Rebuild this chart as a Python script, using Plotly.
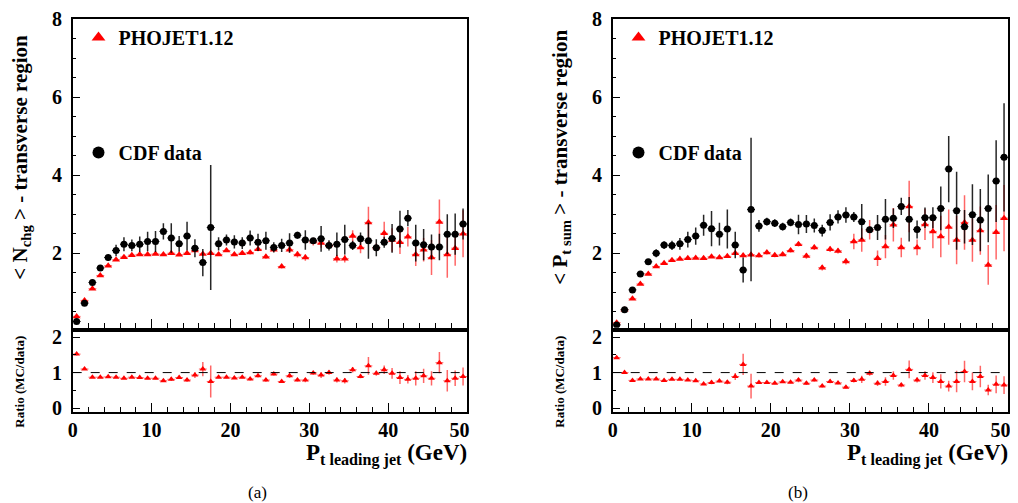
import plotly.graph_objects as go

# ---------------- data ----------------
pt_bins = [0.5, 1.5, 2.5, 3.5, 4.5, 5.5, 6.5, 7.5, 8.5, 9.5,
           10.5, 11.5, 12.5, 13.5, 14.5, 15.5, 16.5, 17.5, 18.5, 19.5,
           20.5, 21.5, 22.5, 23.5, 24.5, 25.5, 26.5, 27.5, 28.5, 29.5,
           30.5, 31.5, 32.5, 33.5, 34.5, 35.5, 36.5, 37.5, 38.5, 39.5,
           40.5, 41.5, 42.5, 43.5, 44.5, 45.5, 46.5, 47.5, 48.5, 49.5]

# (a) <Nchg> transverse region
nchg_cdf = [0.25, 0.72, 1.25, 1.62, 1.89, 2.07, 2.23, 2.20, 2.23, 2.30,
            2.30, 2.56, 2.39, 2.24, 2.44, 2.13, 1.76, 2.66, 2.24, 2.34,
            2.29, 2.26, 2.39, 2.28, 2.32, 2.15, 2.20, 2.26, 2.46, 2.34,
            2.32, 2.37, 2.20, 2.23, 2.35, 2.20, 2.37, 2.32, 2.14, 2.28,
            2.38, 2.62, 2.90, 2.26, 2.22, 2.16, 2.16, 2.49, 2.49, 2.75]
nchg_cdf_err = [0.03, 0.04, 0.05, 0.06, 0.08, 0.15, 0.18, 0.15, 0.20, 0.25,
                0.27, 0.21, 0.38, 0.20, 0.37, 0.23, 0.35, 1.60, 0.17, 0.14,
                0.17, 0.15, 0.19, 0.22, 0.23, 0.13, 0.17, 0.25, 0.09, 0.25,
                0.06, 0.33, 0.13, 0.30, 0.38, 0.12, 0.16, 0.46, 0.22, 0.14,
                0.37, 0.47, 0.21, 0.47, 0.40, 0.32, 0.34, 0.51, 0.53, 0.40]
nchg_mc = [0.38, 0.79, 1.09, 1.43, 1.68, 1.83, 1.90, 1.95, 1.97, 1.97,
           1.98, 1.97, 2.00, 1.96, 2.00, 2.07, 1.98, 2.00, 1.97, 2.07,
           1.97, 2.00, 2.02, 2.10, 1.91, 2.09, 1.66, 2.09, 1.97, 1.89,
           2.30, 2.26, 2.21, 1.86, 1.86, 2.44, 2.15, 2.79, 2.15, 2.51,
           2.34, 2.28, 2.42, 1.97, 2.09, 1.89, 2.80, 1.97, 2.13, 2.50]
nchg_mc_err = [0.02, 0.02, 0.02, 0.02, 0.02, 0.02, 0.02, 0.02, 0.02, 0.02,
               0.02, 0.02, 0.03, 0.03, 0.03, 0.04, 0.04, 0.04, 0.04, 0.04,
               0.04, 0.04, 0.05, 0.05, 0.05, 0.05, 0.05, 0.07, 0.08, 0.08,
               0.10, 0.12, 0.10, 0.10, 0.10, 0.15, 0.15, 0.40, 0.10, 0.30,
               0.30, 0.30, 0.25, 0.30, 0.30, 0.45, 0.58, 0.60, 0.45, 0.60]
nchg_ratio = [1.52, 1.10, 0.87, 0.87, 0.88, 0.87, 0.84, 0.87, 0.86, 0.84,
              0.84, 0.77, 0.81, 0.86, 0.79, 0.93, 1.10, 0.75, 0.87, 0.87,
              0.85, 0.87, 0.82, 0.91, 0.79, 0.96, 0.75, 0.91, 0.79, 0.79,
              0.99, 0.93, 1.00, 0.79, 0.77, 1.08, 0.89, 1.19, 0.98, 1.08,
              0.98, 0.86, 0.81, 0.84, 0.91, 0.84, 1.28, 0.77, 0.84, 0.89]
nchg_ratio_err = [0.04, 0.03, 0.02, 0.02, 0.02, 0.02, 0.02, 0.02, 0.02, 0.03,
                  0.03, 0.03, 0.05, 0.03, 0.05, 0.08, 0.20, 0.45, 0.03, 0.03,
                  0.03, 0.03, 0.04, 0.05, 0.05, 0.04, 0.04, 0.06, 0.04, 0.06,
                  0.05, 0.08, 0.06, 0.07, 0.08, 0.08, 0.05, 0.25, 0.07, 0.12,
                  0.15, 0.18, 0.12, 0.20, 0.20, 0.20, 0.30, 0.30, 0.22, 0.25]

# (b) <Pt sum> transverse region
ptsum_cdf = [0.16, 0.55, 1.06, 1.47, 1.78, 2.00, 2.21, 2.20, 2.24, 2.35,
             2.44, 2.72, 2.63, 2.49, 2.62, 2.21, 1.57, 3.12, 2.70, 2.81,
             2.77, 2.68, 2.79, 2.74, 2.75, 2.71, 2.58, 2.79, 2.93, 2.98,
             2.93, 2.81, 2.60, 2.66, 2.87, 2.90, 3.20, 2.87, 2.61, 2.91,
             2.91, 3.15, 4.16, 3.09, 2.68, 2.99, 2.85, 3.15, 3.85, 4.46]
ptsum_cdf_err = [0.03, 0.04, 0.05, 0.06, 0.07, 0.10, 0.10, 0.12, 0.15, 0.20,
                 0.22, 0.27, 0.45, 0.29, 0.50, 0.34, 0.32, 1.84, 0.15, 0.10,
                 0.10, 0.10, 0.10, 0.25, 0.23, 0.18, 0.15, 0.21, 0.17, 0.20,
                 0.13, 0.45, 0.08, 0.32, 0.52, 0.25, 0.22, 0.57, 0.23, 0.26,
                 0.27, 0.56, 0.85, 1.00, 0.43, 0.78, 0.80, 0.87, 1.05, 1.39]
ptsum_mc = [0.22, 0.55, 0.83, 1.21, 1.47, 1.66, 1.74, 1.82, 1.85, 1.87,
            1.88, 1.87, 1.91, 1.89, 1.92, 2.00, 1.94, 1.96, 1.94, 2.02,
            1.95, 1.97, 2.07, 2.23, 1.93, 2.15, 1.63, 2.10, 2.06, 1.79,
            2.30, 2.34, 2.60, 1.87, 2.17, 2.73, 2.15, 3.20, 2.15, 2.74,
            2.56, 2.43, 2.67, 2.34, 2.79, 2.34, 2.58, 1.70, 2.54, 2.90]
ptsum_mc_err = [0.02, 0.02, 0.02, 0.02, 0.02, 0.02, 0.02, 0.02, 0.02, 0.02,
                0.02, 0.02, 0.03, 0.03, 0.03, 0.04, 0.05, 0.05, 0.05, 0.05,
                0.05, 0.05, 0.05, 0.06, 0.07, 0.07, 0.07, 0.07, 0.07, 0.08,
                0.20, 0.30, 0.25, 0.20, 0.30, 0.43, 0.25, 0.66, 0.20, 0.40,
                0.43, 0.53, 0.45, 0.62, 0.70, 0.56, 0.62, 0.51, 0.70, 0.85]
ptsum_ratio = [1.42, 1.00, 0.78, 0.82, 0.82, 0.82, 0.78, 0.81, 0.81, 0.79,
               0.77, 0.68, 0.72, 0.76, 0.73, 0.89, 1.23, 0.62, 0.72, 0.72,
               0.70, 0.74, 0.73, 0.79, 0.70, 0.79, 0.62, 0.75, 0.71, 0.59,
               0.78, 0.81, 0.98, 0.70, 0.75, 0.92, 0.65, 1.09, 0.79, 0.92,
               0.86, 0.75, 0.62, 0.75, 1.03, 0.75, 0.89, 0.51, 0.67, 0.65]
ptsum_ratio_err = [0.04, 0.03, 0.02, 0.02, 0.02, 0.02, 0.02, 0.02, 0.02, 0.03,
                   0.03, 0.03, 0.05, 0.04, 0.06, 0.10, 0.30, 0.35, 0.03, 0.03,
                   0.03, 0.03, 0.03, 0.06, 0.05, 0.04, 0.04, 0.05, 0.04, 0.04,
                   0.06, 0.10, 0.07, 0.08, 0.12, 0.12, 0.06, 0.25, 0.07, 0.12,
                   0.15, 0.20, 0.15, 0.30, 0.30, 0.25, 0.30, 0.15, 0.25, 0.25]

x_tickvals = [0, 10, 20, 30, 40, 50]
x_ticktext = ["0", "10", "20", "30", "40", "50&nbsp;&nbsp;&nbsp;"]
main_tickvals = [2, 4, 6, 8]
ratio_tickvals = [0, 1, 2]
panel_labels = ["(a)", "(b)"]
y_titles = ["<b>&lt; N<sub>chg</sub> &gt; - transverse region</b>",
            "<b>&lt; P<sub>t sum</sub> &gt; - transverse region</b>"]
ratio_title = "<b>Ratio (MC/data)</b>"
x_title = "<b>P<sub>t leading jet</sub> (GeV)</b>"
mc_name = "<b>PHOJET1.12</b>"
data_name = "<b>CDF data</b>"

# ---------------- style ----------------
PAGE_MARGIN = 8          # default body margin of the html page
W, H = 1018 - PAGE_MARGIN, 503 - PAGE_MARGIN
SERIF = "Liberation Serif, Times New Roman, Times, serif"
RED = "#ff0000"
RED_BAR = "rgba(255,0,0,0.6)"

def px_x(p):
    return (p - PAGE_MARGIN) / W

def px_y(p):
    return 1 - (p - PAGE_MARGIN) / H

left_dom = [px_x(72.7), px_x(467.0)]
right_dom = [px_x(612.7), px_x(1008.0)]
main_dom = [px_y(327.7), px_y(19.3)]
ratio_dom = [px_y(411.7), px_y(331.7)]

fig = go.Figure()

def add_panel(i, mc, mc_err, cdf, cdf_err, ratio, ratio_err, legend_id):
    xa_main = "x" if i == 0 else "x3"
    ya_main = "y" if i == 0 else "y3"
    xa_rat = "x2" if i == 0 else "x4"
    ya_rat = "y2" if i == 0 else "y4"
    fig.add_trace(go.Scatter(
        x=pt_bins, y=mc, mode="markers", name=mc_name,
        marker=dict(symbol="triangle-up", size=7, color=RED),
        error_y=dict(type="data", array=mc_err, color=RED_BAR, thickness=1.5, width=0),
        error_x=dict(type="constant", value=0.5, color=RED_BAR, thickness=1, width=0),
        xaxis=xa_main, yaxis=ya_main, legend=legend_id, legendgroup="mc" + str(i)))
    fig.add_trace(go.Scatter(
        x=pt_bins, y=cdf, mode="markers", name=data_name,
        marker=dict(symbol="circle", size=7, color="black"),
        error_y=dict(type="data", array=cdf_err, color="rgba(0,0,0,0.85)", thickness=1.5, width=0),
        error_x=dict(type="constant", value=0.5, color="black", thickness=1, width=0),
        xaxis=xa_main, yaxis=ya_main, legend=legend_id, legendgroup="cdf" + str(i)))
    fig.add_trace(go.Scatter(
        x=pt_bins, y=ratio, mode="markers", showlegend=False,
        marker=dict(symbol="triangle-up", size=6, color=RED),
        error_y=dict(type="data", array=ratio_err, color=RED_BAR, thickness=1.5, width=0),
        error_x=dict(type="constant", value=0.5, color=RED_BAR, thickness=1, width=0),
        xaxis=xa_rat, yaxis=ya_rat))

add_panel(0, nchg_mc, nchg_mc_err, nchg_cdf, nchg_cdf_err, nchg_ratio, nchg_ratio_err, "legend")
add_panel(1, ptsum_mc, ptsum_mc_err, ptsum_cdf, ptsum_cdf_err, ptsum_ratio, ptsum_ratio_err, "legend2")

tickfont = dict(family=SERIF, size=20, color="black")

def bold(labels):
    return ["<b>%s</b>" % v for v in labels]

def xax(dom, anchor, labels):
    return dict(domain=dom, anchor=anchor, range=[0, 50], showgrid=False, zeroline=False,
                automargin=False, ticklabeloverflow="allow",
                showline=True, mirror=True, linecolor="black", linewidth=1.5,
                ticks="inside", ticklen=9, tickwidth=1, tickcolor="black",
                tickvals=x_tickvals, ticktext=bold(x_ticktext),
                showticklabels=labels, tickfont=tickfont,
                ticklabelstandoff=0,
                minor=dict(ticks="inside", ticklen=5, tickwidth=1, tickcolor="black",
                           dtick=2, tick0=0, showgrid=False))

def yax_main(dom, anchor):
    return dict(domain=dom, anchor=anchor, range=[0.09, 8.0], showgrid=False, zeroline=False,
                automargin=False,
                showline=True, mirror=True, linecolor="black", linewidth=1.5,
                ticks="inside", ticklen=8, tickwidth=1, tickcolor="black",
                tickvals=main_tickvals, ticktext=bold(["%g" % v for v in main_tickvals]),
                tickfont=tickfont, ticklabelstandoff=5,
                minor=dict(ticks="inside", ticklen=4, tickwidth=1, tickcolor="black",
                           dtick=0.5, tick0=0, showgrid=False))

def yax_ratio(dom, anchor):
    return dict(domain=dom, anchor=anchor, range=[-0.1, 2.15], showgrid=False, zeroline=False,
                automargin=False,
                showline=True, mirror=True, linecolor="black", linewidth=1.5,
                ticks="inside", ticklen=8, tickwidth=1, tickcolor="black",
                tickvals=ratio_tickvals, ticktext=bold(["%g" % v for v in ratio_tickvals]),
                tickfont=tickfont, ticklabelstandoff=5,
                minor=dict(ticks="inside", ticklen=4, tickwidth=1, tickcolor="black",
                           dtick=0.5, tick0=0, showgrid=False))

legend_common = dict(font=dict(family=SERIF, size=20, color="black"),
                     bgcolor="rgba(0,0,0,0)", borderwidth=0, traceorder="grouped",
                     tracegroupgap=86, itemsizing="constant",
                     xanchor="left", yanchor="top")

fig.update_layout(
    width=W, height=H, margin=dict(l=0, r=0, t=0, b=0, autoexpand=False),
    paper_bgcolor="white", plot_bgcolor="white",
    xaxis=xax(left_dom, "y", False),
    yaxis=yax_main(main_dom, "x"),
    xaxis2=xax(left_dom, "y2", True),
    yaxis2=yax_ratio(ratio_dom, "x2"),
    xaxis3=xax(right_dom, "y3", False),
    yaxis3=yax_main(main_dom, "x3"),
    xaxis4=xax(right_dom, "y4", True),
    yaxis4=yax_ratio(ratio_dom, "x4"),
    legend=dict(x=px_x(78.5), y=px_y(18), **legend_common),
    legend2=dict(x=px_x(618.5), y=px_y(18), **legend_common),
)

# reference line at ratio = 1
for xr, yr in (("x2 domain", "y2"), ("x4 domain", "y4")):
    fig.add_shape(type="line", xref=xr, yref=yr, x0=0, x1=1, y0=1, y1=1,
                  line=dict(color="black", width=1, dash="dash"))

title_font = dict(family=SERIF, size=21, color="black")
for k, (frame_left, frame_right) in enumerate(((72.7, 467.0), (612.7, 1008.0))):
    fig.add_annotation(xref="paper", yref="paper", x=px_x(frame_left - 52), y=px_y(157),
                       text=y_titles[k], textangle=-90, showarrow=False,
                       font=title_font, xanchor="center", yanchor="middle")
    fig.add_annotation(xref="paper", yref="paper", x=px_x(frame_left - 54), y=px_y(382),
                       text=ratio_title, textangle=-90, showarrow=False,
                       font=dict(family=SERIF, size=13, color="black"),
                       xanchor="center", yanchor="middle")
    fig.add_annotation(xref="paper", yref="paper", x=px_x(frame_right + 2), y=px_y(454),
                       text=x_title, showarrow=False,
                       font=dict(family=SERIF, size=23, color="black"),
                       xanchor="right", yanchor="middle")
    fig.add_annotation(xref="paper", yref="paper", x=px_x(frame_left + 185), y=px_y(492),
                       text=panel_labels[k], showarrow=False,
                       font=dict(family=SERIF, size=17, color="black"),
                       xanchor="center", yanchor="middle")

fig.write_html("out.html")
